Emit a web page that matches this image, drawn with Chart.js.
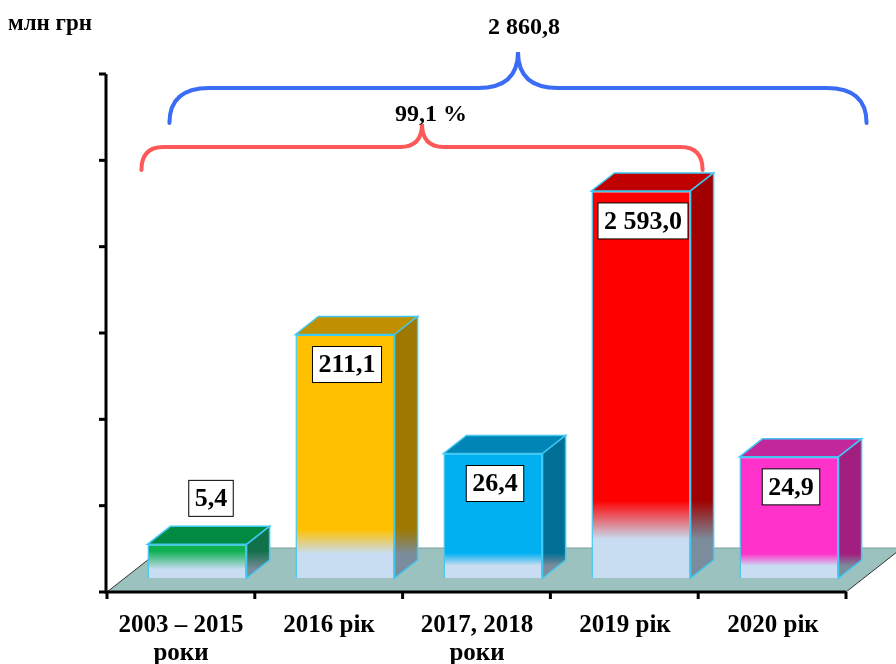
<!DOCTYPE html>
<html>
<head>
<meta charset="utf-8">
<script src="https://cdn.jsdelivr.net/npm/chart.js@4/dist/chart.umd.min.js"></script>
<style>
    html, body { margin: 0; padding: 0; background: #ffffff; }
    #wrap { width: 896px; height: 664px; }
</style>
</head>
<body>
<div id="wrap"><canvas id="fundChart" width="896" height="664"></canvas></div>
<script>
// Chart data
const categories = [['2003 – 2015', 'роки'], ['2016 рік'], ['2017, 2018', 'роки'], ['2019 рік'], ['2020 рік']];
const values = [5.4, 211.1, 26.4, 2593.0, 24.9];
const unitLabel = 'млн грн';

// Colours per bar: front, top, side
const frontColors = ['#0fb052', '#ffc000', '#00b0f0', '#ff0000', '#ff33cc'];
const topColors = ['#008a42', '#c09000', '#0086b6', '#c00000', '#c2289c'];
const sideColors = ['#12704a', '#9e7800', '#006f96', '#a00000', '#a21f80'];

const SERIF = '"Liberation Serif", "Times New Roman", serif';
const DX = 23, DY = -18;          // bar depth
const FLOOR_FRONT = 14, FLOOR_BACK = -30;

function fmt(v) {
    const parts = v.toFixed(1).split('.');
    return parts[0].replace(/\B(?=(\d{3})+(?!\d))/g, ' ') + ',' + parts[1];
}

function fade(c, top, base, color, low) {
    const h = base - top;
    const g = c.createLinearGradient(0, top, 0, base);
    const s1 = h < 70 ? 0.2 : 0.8;
    const s2 = h < 70 ? 0.75 : 0.9;
    g.addColorStop(0, color);
    g.addColorStop(s1, color);
    g.addColorStop(s2, low);
    g.addColorStop(1, low);
    return g;
}

const total = values.reduce((a, b) => a + b, 0);
const firstFour = values.slice(0, 4).reduce((a, b) => a + b, 0);

function brace(c, x0, x1, yEnd, yH, yP, r, color) {
    const xm = (x0 + x1) / 2;
    c.save();
    c.strokeStyle = color;
    c.lineWidth = 4;
    c.lineCap = 'round';
    c.beginPath();
    c.moveTo(x0, yEnd);
    c.quadraticCurveTo(x0, yH, x0 + r, yH);
    c.lineTo(xm - r, yH);
    c.quadraticCurveTo(xm, yH, xm, yP);
    c.quadraticCurveTo(xm, yH, xm + r, yH);
    c.lineTo(x1 - r, yH);
    c.quadraticCurveTo(x1, yH, x1, yEnd);
    c.stroke();
    c.restore();
}

const bar3d = {
    id: 'bar3d',
    beforeDatasetsDraw(chart) {
        const c = chart.ctx;
        const a = chart.chartArea;
        const xs = chart.scales.x;
        const fl = a.left - 16, fr = a.right - 17;
        const yf = a.bottom + FLOOR_FRONT, yb = a.bottom + FLOOR_BACK;
        c.save();
        // floor
        c.beginPath();
        c.moveTo(fl, yf);
        c.lineTo(fl + 56, yb);
        c.lineTo(fr + 56, yb);
        c.lineTo(fr, yf);
        c.closePath();
        c.fillStyle = '#9cc2c0';
        c.fill();
        c.strokeStyle = '#333';
        c.lineWidth = 1;
        c.beginPath();
        c.moveTo(fl, yf); c.lineTo(fl + 56, yb);
        c.moveTo(fr, yf); c.lineTo(fr + 56, yb);
        c.stroke();
        c.strokeStyle = '#7f9f9d';
        c.beginPath();
        c.moveTo(fl + 56, yb); c.lineTo(fr + 56, yb);
        c.stroke();
        // axes
        c.strokeStyle = '#000';
        c.lineWidth = 3;
        const ax = fl - 1;
        c.beginPath();
        c.moveTo(ax, a.top);
        c.lineTo(ax, yf);
        c.lineTo(fr, yf);
        c.stroke();
        const n = 6;
        for (let i = 0; i <= n; i++) {
            const y = a.top + (yf - a.top) * i / n;
            c.beginPath();
            c.moveTo(ax - 7, y);
            c.lineTo(ax, y);
            c.stroke();
        }
        const step = (fr - fl) / categories.length;
        for (let i = 0; i <= categories.length; i++) {
            const x = fl + step * i;
            c.beginPath();
            c.moveTo(x, yf);
            c.lineTo(x, yf + 7);
            c.stroke();
        }
        // category labels
        c.fillStyle = '#000';
        c.font = 'bold 25px ' + SERIF;
        c.textAlign = 'center';
        c.textBaseline = 'alphabetic';
        categories.forEach((lines, i) => {
            const x = xs.getPixelForValue(i) - 16;
            lines.forEach((t, j) => c.fillText(t, x, 632 + j * 28));
        });
        c.restore();
    },
    afterDatasetsDraw(chart) {
        const c = chart.ctx;
        const bars = chart.getDatasetMeta(0).data;
        c.save();
        bars.forEach((b, i) => {
            const l = b.x - b.width / 2, r = b.x + b.width / 2;
            const t = b.y, base = b.base;
            c.lineWidth = 1.5;
            c.strokeStyle = '#3fc8f2';
            // top face
            c.beginPath();
            c.moveTo(l, t);
            c.lineTo(l + DX, t + DY);
            c.lineTo(r + DX, t + DY);
            c.lineTo(r, t);
            c.closePath();
            c.fillStyle = topColors[i];
            c.fill();
            c.stroke();
            // side face
            c.beginPath();
            c.moveTo(r, t);
            c.lineTo(r + DX, t + DY);
            c.lineTo(r + DX, base + DY);
            c.lineTo(r, base);
            c.closePath();
            c.fillStyle = fade(c, t, base, sideColors[i], '#7b8c9c');
            c.fill();
            c.stroke();
        });
        // value boxes
        c.font = 'bold 26px ' + SERIF;
        c.textAlign = 'center';
        c.textBaseline = 'middle';
        bars.forEach((b, i) => {
            const txt = fmt(values[i]);
            const w = c.measureText(txt).width + 12, h = 36;
            let cx = b.x + 2, top = b.y + 12;
            if (b.base - b.y < 60) {
                cx = b.x + 14;
                top = b.y + DY - 10 - h;
            }
            c.fillStyle = '#fff';
            c.fillRect(cx - w / 2, top, w, h);
            c.strokeStyle = '#000';
            c.lineWidth = 1;
            c.strokeRect(cx - w / 2, top, w, h);
            c.fillStyle = '#000';
            c.fillText(txt, cx, top + h / 2 + 1);
        });
        // braces
        const b0 = bars[0], b3 = bars[3], b4 = bars[4];
        brace(c, b0.x - b0.width / 2 + 22, b4.x + b4.width / 2 + 28, 123, 88, 52, 40, '#3a6cf6');
        brace(c, b0.x - b0.width / 2 - 6, b3.x + b3.width / 2 + 12, 170, 147, 124, 22, '#ff5858');
        c.font = 'bold 24px ' + SERIF;
        c.textAlign = 'center';
        c.textBaseline = 'alphabetic';
        c.fillStyle = '#000';
        c.fillText(fmt(total), 524, 34);
        c.fillText(fmt(firstFour / total * 100) + ' %', 431, 121);
        c.textAlign = 'left';
        c.font = 'bold 23px ' + SERIF;
        c.fillText(unitLabel, 8, 30);
        c.restore();
    }
};

new Chart(document.getElementById('fundChart'), {
    type: 'bar',
    data: {
        labels: categories,
        datasets: [{
            data: values,
            backgroundColor: (ctx) => {
                const chart = ctx.chart;
                const a = chart.chartArea;
                const i = ctx.dataIndex;
                if (!a || i === undefined) return frontColors[i || 0];
                const top = chart.scales.y.getPixelForValue(values[i]);
                return fade(chart.ctx, top, a.bottom, frontColors[i], '#c8ddf2');
            },
            borderColor: '#3fc8f2',
            borderWidth: 1.5,
            barPercentage: 0.67,
            categoryPercentage: 1
        }]
    },
    options: {
        responsive: false,
        animation: false,
        layout: { padding: { left: 123, right: 33, top: 74, bottom: 86 } },
        plugins: {
            legend: { display: false },
            tooltip: { enabled: false }
        },
        scales: {
            x: { display: false },
            y: { type: 'logarithmic', min: 3, max: 20000, display: false }
        }
    },
    plugins: [bar3d]
});
</script>
</body>
</html>
